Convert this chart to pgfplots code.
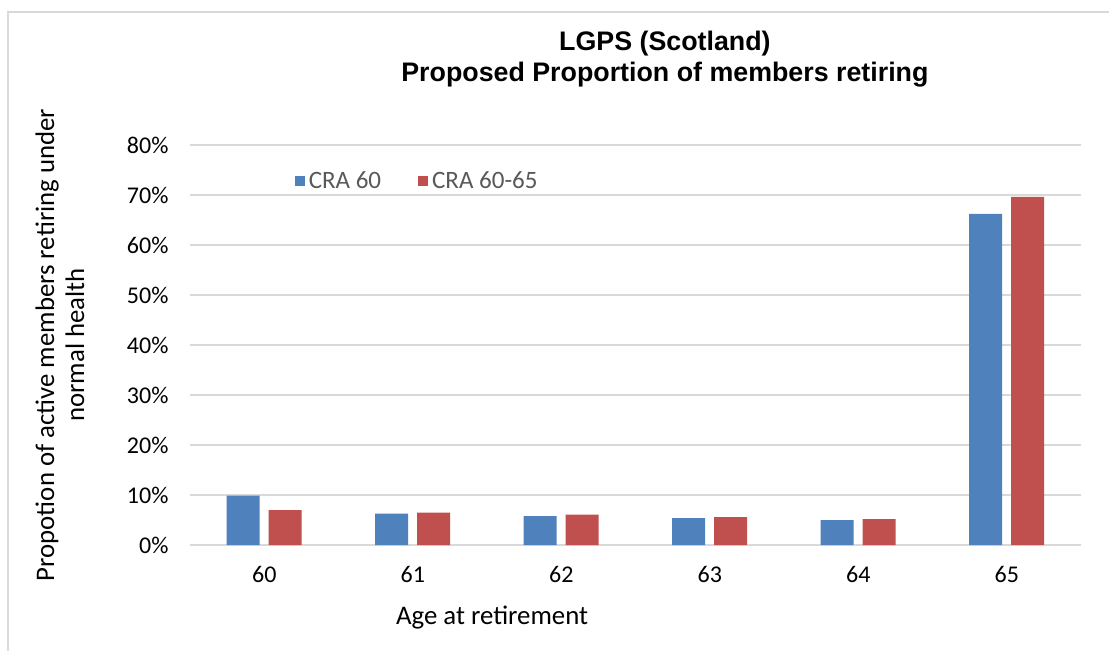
\documentclass[border=0pt]{standalone}
\usepackage{pgfplots}
\pgfplotsset{compat=1.18}
\usepackage{fontspec}
\setmainfont{Carlito}
\newfontfamily\titlefont{Liberation Sans}
\definecolor{cblue}{HTML}{4F81BD}
\definecolor{cred}{HTML}{C0504D}
\definecolor{gridc}{HTML}{D9D9D9}
\definecolor{legtext}{HTML}{595959}
\begin{document}
\begin{tikzpicture}[x=1pt,y=1pt]
\useasboundingbox (-190,-106) rectangle (919,545);
\fill[white] (-190,-106) rectangle (919,545);
\draw[gridc, line width=1.5pt] (-182,-106) -- (-182,533) -- (919,533);
\begin{axis}[
  at={(0,0)}, anchor=south west,
  scale only axis, width=891pt, height=400pt,
  xmin=-0.5, xmax=5.5, ymin=0, ymax=80,
  ybar=9pt, bar width=33pt,
  xtick={0,1,2,3,4,5}, xticklabels={60,61,62,63,64,65},
  ytick={0,10,...,80},
  yticklabel={\pgfmathprintnumber[assume math mode=true]{\tick}\%},
  major tick length=0pt,
  axis x line*=bottom, axis y line*=left,
  y axis line style={draw=none},
  x axis line style={draw=gridc, line width=1.5pt, -},
  ymajorgrids, major grid style={draw=gridc, line width=1.5pt},
  ticklabel style={font=\fontsize{24}{29}\selectfont, text=black},
  yticklabel style={xshift=-18pt},
  xticklabel style={yshift=-18pt},
  xlabel={Age at retirement},
  xlabel style={at={(axis description cs:0.339,-0.1825)}, anchor=center, font=\fontsize{26.8}{31}\selectfont},
  ylabel={Propotion of active members retiring under\\normal health},
  ylabel style={at={(axis description cs:-0.1459,0.5)}, anchor=center, align=center, font=\fontsize{26.8}{30}\selectfont},
  title={LGPS (Scotland)\\Proposed Proportion of members retiring},
  title style={at={(axis description cs:0.533,1.199)}, anchor=center, align=center, font=\titlefont\bfseries\fontsize{26.8}{31}\selectfont},
  legend columns=2,
  legend style={draw=none, fill=none, at={(axis description cs:0.114,0.91)}, anchor=west,
    font=\fontsize{25}{30}\selectfont, text=legtext, nodes={inner xsep=4pt, inner ysep=1pt},
    /tikz/every even column/.append style={column sep=33pt}},
]
\addplot[fill=cblue, draw=none, legend image code/.code={\fill[cblue] (0pt,-5pt) rectangle (10pt,5pt);}]
  coordinates {(0,9.9) (1,6.3) (2,5.8) (3,5.4) (4,5.0) (5,66.2)};
\addplot[fill=cred, draw=none, legend image code/.code={\fill[cred] (0pt,-5pt) rectangle (10pt,5pt);}]
  coordinates {(0,7.0) (1,6.5) (2,6.1) (3,5.6) (4,5.2) (5,69.6)};
\legend{CRA 60, CRA 60-65}
\end{axis}
\end{tikzpicture}
\end{document}
